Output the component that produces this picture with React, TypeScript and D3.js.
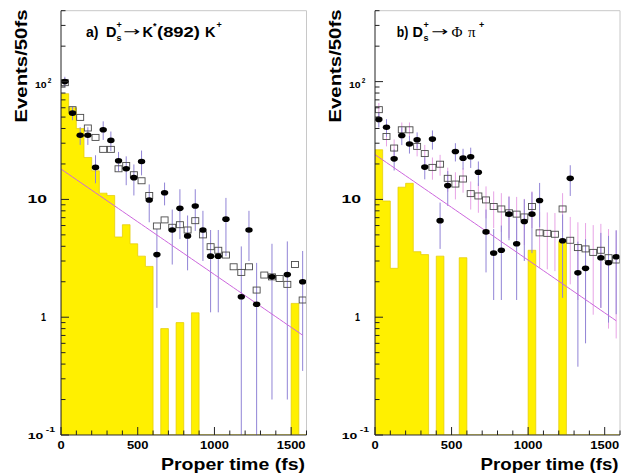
import React from 'react';
import * as d3 from 'd3';

const W = 625;
const H = 476;
const BIN_WIDTH = 50; // fs per bin
const T_MAX = 1600;
const Y_MIN = 0.1;
const Y_MAX = 400;

// Panel a) D_s+ -> K*(892) K+ : events per 50 fs bin
const kkData: (number | null)[] = [100, 54, 35, 35, 18.7, 39, 31.7, 21.3, 18.2, 15.3, 21, 9.9, 3.4, 11.4, 5.5, 8.4, 4.9, 8.8, 5.5, 3.3, 3.3, 6.8, null, 1.49, 5.5, 1.29, null, 2.2, null, 2.3, null, 2.0];
const kkDataErr = [10, 7, 6, 6, 5, 7, 6, 4, 5, 4.5, 5, 3.5, 2.2, 2.5, 2.7, 3.8, 2.4, 3.4, 2.5, 2.2, 2.2, 3.5, 0, 2.5, 2.5, 1.6, 0, 2.0, 0, 2.1, 0, 1.65];
const kkMc = [98, 57.8, 49.7, 40.4, 33.6, 26.6, 26.6, 18.2, 19.4, 16.2, 14.4, 10.8, 5.95, 6.7, 5.8, 6.1, 5.5, 6.6, 5.0, 3.97, 3.7, 3.37, 2.68, 2.4, 2.68, 1.7, 2.28, 2.2, 2.13, 1.9, 2.8, 1.4];
const kkSignal = [79, 60, 40, 22.7, 17.5, 11.3, 10.8, 4.8, 6.1, 4.2, 3.3, 2.7, 0, 0.8, 0, 0.9, 0, 1.09, 0, 0, 0, 0, 0, 0, 0, 0, 0, 0, 0, 0, 1.31, 0];
const kkFitNorm = 18.1;
const kkFitTau = 485;

// Panel b) D_s+ -> Phi pi+ : events per 50 fs bin
const ppData: (number | null)[] = [47.8, 41, 22.1, 34.9, 29.5, 32.1, 18.8, 32.5, 6.6, 13.1, 25.5, 22.4, 23, 17, 5.3, 3.5, 3.7, 7.5, 4.2, 6.5, 7.5, 9.8, null, null, 4.46, 15.1, 2.38, 2.6, null, 3.2, 2.9, 3.26];
const ppDataErr = [7, 7, 4.5, 6, 5, 5, 4, 6, 2.8, 4.3, 4.5, 4.5, 4.5, 4, 2.9, 2.1, 2.3, 3, 2.8, 3.5, 4, 4, 0, 0, 3, 4.4, 2, 2, 0, 2, 2, 2.2];
const ppMc = [57.8, 34.2, 27.3, 39, 39, 28.2, 24.5, 18.7, 19.9, 15.1, 13.5, 14.9, 11.2, 10.7, 9.9, 8.7, 8.3, 7.7, 7.5, 7.1, 8.7, 5.2, 5.15, 5.06, 8.3, 4.5, 3.9, 3.8, 3.55, 3.7, 3.2, 3.06];
const ppMcErr = [8, 6, 5, 6, 6, 5, 4.5, 4, 4, 3.5, 3.5, 3.5, 3, 3, 3, 3, 3, 3, 3, 3, 3, 2.6, 2.6, 2.6, 3, 2.6, 2.5, 2.5, 2.5, 2.5, 2.4, 2.4];
const ppSignal = [26.4, 9.7, 2.6, 12.7, 13.7, 3.6, 3.4, 0, 3.3, 0, 0, 3.2, 0, 0, 0, 0, 0, 0, 0, 0, 3.7, 0, 0, 0, 4.4, 0, 0, 0, 0, 0, 0, 0];
const ppFitNorm = 24;
const ppFitTau = 485;

const FIT_RANGE: [number, number] = [0, 1575];
const X_MAJOR = [0, 500, 1000, 1500];
const X_MINOR_STEP = 100;
const DECADES = [0.1, 1, 10, 100];

const SANS = '"Liberation Sans", Arial, Helvetica, sans-serif';
const SERIF = '"Liberation Serif", "DejaVu Serif", serif';
const SYM = '"DejaVu Sans", sans-serif';

const YELLOW = '#fff000';
const YELLOW_EDGE = '#e2c800';
const DATA_ERR = '#9184d6';
const MC_ERR = '#e7a3e6';
const FIT = '#cc66dd';

const TOP = 10.7;
const BOTTOM = 435;

type PanelProps = {
  left: number;
  right: number;
  data: (number | null)[];
  dataErr: number[];
  mc: number[];
  mcErr: number[] | null;
  signal: number[];
  fitNorm: number;
  fitTau: number;
  xLabelLen: number;
  id: string;
};

function Panel(p: PanelProps) {
  const x = d3.scaleLinear().domain([0, T_MAX]).range([p.left, p.right]);
  const y = d3.scaleLog().domain([Y_MIN, Y_MAX]).range([BOTTOM, TOP]);
  const base = y(Y_MIN);
  const center = (i: number) => x((i + 0.5) * BIN_WIDTH);

  // filled histogram as a single stepped outline
  let hist = `M${x(0)},${base}`;
  p.signal.forEach((v, i) => {
    const yy = v > Y_MIN ? y(Math.min(v, Y_MAX)) : base;
    hist += `L${x(i * BIN_WIDTH)},${yy}L${x((i + 1) * BIN_WIDTH)},${yy}`;
  });
  hist += `L${x(T_MAX)},${base}Z`;

  const fitPts = d3.range(FIT_RANGE[0], FIT_RANGE[1] + 1, 25).map((t) => [x(t), y(p.fitNorm * Math.exp(-t / p.fitTau))] as [number, number]);
  const fitPath = d3.line()(fitPts) || '';

  const errY = (v: number, e: number): [number, number] => [
    y(Math.min(v + e, Y_MAX)),
    v - e > Y_MIN ? y(v - e) : base,
  ];

  const yMinor: number[] = [];
  DECADES.forEach((d) => {
    for (let m = 2; m <= 9; m++) if (m * d <= Y_MAX) yMinor.push(m * d);
  });
  const xTicks = d3.range(0, T_MAX + 1, X_MINOR_STEP);

  const x0 = p.left;
  const clipId = `clip-${p.id}`;

  return (
    <g>
      <defs>
        <clipPath id={clipId}>
          <rect x={p.left} y={TOP} width={p.right - p.left} height={BOTTOM - TOP} />
        </clipPath>
      </defs>
      <g clipPath={`url(#${clipId})`}>
        <path d={hist} fill={YELLOW} stroke={YELLOW_EDGE} strokeWidth={0.7} />
        {p.mcErr &&
          p.mc.map((v, i) => {
            const [a, b] = errY(v, p.mcErr![i]);
            return <line key={`me${i}`} x1={center(i)} x2={center(i)} y1={a} y2={b} stroke={MC_ERR} strokeWidth={1} />;
          })}
        {p.data.map((v, i) => {
          if (v == null || !p.dataErr[i]) return null;
          const [a, b] = errY(v, p.dataErr[i]);
          return <line key={`de${i}`} x1={center(i)} x2={center(i)} y1={a} y2={b} stroke={DATA_ERR} strokeWidth={1} />;
        })}
        <path d={fitPath} fill="none" stroke={FIT} strokeWidth={1} />
        {p.mc.map((v, i) => (
          <rect key={`m${i}`} x={center(i) - 3.5} y={y(v) - 3} width={7} height={6} fill="none" stroke="#4a4a4a" strokeWidth={0.9} />
        ))}
        {p.data.map((v, i) =>
          v == null ? null : <ellipse key={`d${i}`} cx={center(i)} cy={y(v)} rx={3.7} ry={2.8} fill="#000" />
        )}
      </g>

      {/* frame */}
      <line x1={p.left} x2={p.right} y1={TOP} y2={TOP} stroke="#c8c8c8" strokeWidth={1} />
      <line x1={p.right} x2={p.right} y1={TOP} y2={BOTTOM} stroke="#c8c8c8" strokeWidth={1} />
      <line x1={p.left} x2={p.right} y1={BOTTOM} y2={BOTTOM} stroke="#333" strokeWidth={1} />
      <line x1={p.left} x2={p.left} y1={TOP} y2={BOTTOM} stroke="#222" strokeWidth={1} />

      {/* y ticks */}
      {DECADES.map((d) => (
        <line key={`yM${d}`} x1={x0} x2={x0 + 8} y1={y(d)} y2={y(d)} stroke="#222" strokeWidth={1} />
      ))}
      {yMinor.map((v) => (
        <line key={`ym${v}`} x1={x0} x2={x0 + 4.5} y1={y(v)} y2={y(v)} stroke="#222" strokeWidth={1} />
      ))}
      {/* x ticks */}
      {xTicks.map((t) => {
        const major = X_MAJOR.includes(t);
        return <line key={`xt${t}`} x1={x(t)} x2={x(t)} y1={BOTTOM} y2={BOTTOM - (major ? 8 : 4.5)} stroke="#222" strokeWidth={1} />;
      })}

      {/* x tick labels */}
      {X_MAJOR.map((t) => {
        const s = String(t);
        return (
          <text key={`xl${t}`} x={x(t)} y={449} textAnchor="middle" fontFamily={SANS} fontWeight="bold" fontSize={10}
            textLength={s.length * 7.2} lengthAdjust="spacingAndGlyphs">{s}</text>
        );
      })}

      {/* y tick labels */}
      <g fontFamily={SANS} fontWeight="bold" fill="#000">
        <text x={x0 - 14.3} y={87.8} textAnchor="end" fontSize={8.5} textLength={11.7} lengthAdjust="spacingAndGlyphs">10</text>
        <text x={x0 - 13.3} y={83} fontSize={6.5}>2</text>
        <text x={x0 - 14} y={203.3} textAnchor="end" fontSize={10} textLength={19.5} lengthAdjust="spacingAndGlyphs">10</text>
        <text x={x0 - 15} y={320.5} textAnchor="end" fontSize={10} textLength={5} lengthAdjust="spacingAndGlyphs">1</text>
        <text x={x0 - 17.7} y={438.6} textAnchor="end" fontSize={9.5} textLength={15.6} lengthAdjust="spacingAndGlyphs">10</text>
        <text x={x0 - 15.3} y={432} fontSize={7} textLength={9.3} lengthAdjust="spacingAndGlyphs">-1</text>
      </g>

      {/* axis titles */}
      <text transform={`translate(${x0 - 34},66) rotate(-90)`} textAnchor="middle" fontFamily={SANS} fontWeight="bold" fontSize={16}
        textLength={113} lengthAdjust="spacingAndGlyphs">Events/50fs</text>
      <text x={p.right - 1.5} y={470} textAnchor="end" fontFamily={SANS} fontWeight="bold" fontSize={17}
        textLength={p.xLabelLen} lengthAdjust="spacingAndGlyphs">Proper time (fs)</text>
    </g>
  );
}

function TitleA() {
  return (
    <g fontFamily={SANS} fontWeight="bold" fill="#000">
      <text x={86} y={37} fontSize={14.5} textLength={12.5} lengthAdjust="spacingAndGlyphs">a)</text>
      <text x={106} y={37} fontSize={14.5}>D</text>
      <text x={116.5} y={28} fontSize={9}>+</text>
      <text x={116.5} y={41} fontSize={9}>s</text>
      <text x={123} y={36} fontFamily={SYM} fontWeight="normal" fontSize={13} textLength={17} lengthAdjust="spacingAndGlyphs">→</text>
      <text x={142.5} y={37} fontSize={14.5}>K</text>
      <text x={153} y={29} fontSize={9}>*</text>
      <text x={157} y={37} fontSize={14.5} textLength={43} lengthAdjust="spacingAndGlyphs">(892)</text>
      <text x={205} y={37} fontSize={14.5}>K</text>
      <text x={216.5} y={28} fontSize={9}>+</text>
    </g>
  );
}

function TitleB() {
  return (
    <g fontFamily={SANS} fontWeight="bold" fill="#000">
      <text x={396.7} y={37} fontSize={14.5} textLength={11.5} lengthAdjust="spacingAndGlyphs">b)</text>
      <text x={412.5} y={37} fontSize={14.5}>D</text>
      <text x={423.5} y={28} fontSize={9}>+</text>
      <text x={423.5} y={41} fontSize={9}>s</text>
      <text x={431} y={36} fontFamily={SYM} fontWeight="normal" fontSize={13} textLength={17} lengthAdjust="spacingAndGlyphs">→</text>
      <text x={451.5} y={37} fontFamily={SERIF} fontWeight="normal" fontSize={15}>Φ</text>
      <text x={468} y={37} fontFamily={SERIF} fontWeight="normal" fontSize={15}>π</text>
      <text x={479} y={28} fontSize={9}>+</text>
    </g>
  );
}

export default function App() {
  return (
    <svg width={W} height={H} viewBox={`0 0 ${W} ${H}`} style={{ position: 'absolute', left: 0, top: 0, background: '#fff' }}>
      <rect x={0} y={0} width={W} height={H} fill="#fff" />
      <Panel id="kk" left={61} right={306.5} data={kkData} dataErr={kkDataErr} mc={kkMc} mcErr={null}
        signal={kkSignal} fitNorm={kkFitNorm} fitTau={kkFitTau} xLabelLen={144} />
      <Panel id="pp" left={375} right={620} data={ppData} dataErr={ppDataErr} mc={ppMc} mcErr={ppMcErr}
        signal={ppSignal} fitNorm={ppFitNorm} fitTau={ppFitTau} xLabelLen={138} />
      <TitleA />
      <TitleB />
    </svg>
  );
}
